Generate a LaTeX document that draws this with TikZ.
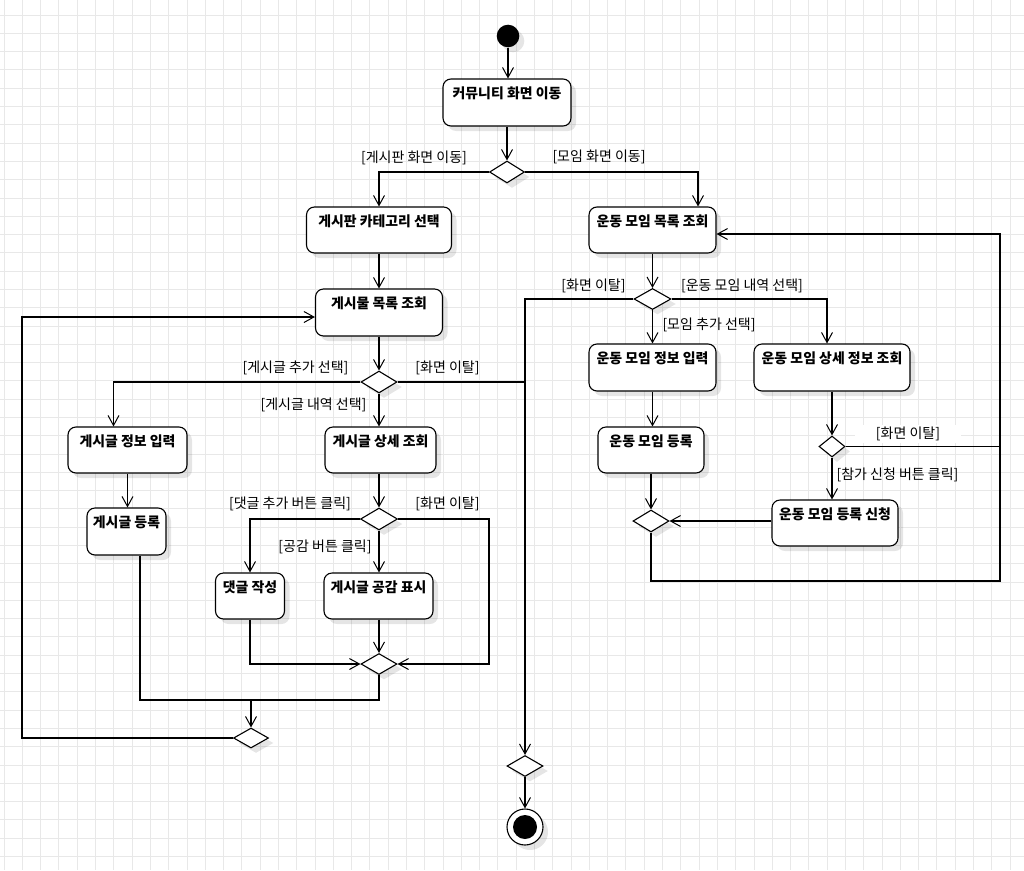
\documentclass[tikz,border=0pt]{standalone}
\usepackage{fontspec}
\setmainfont{Noto Sans CJK KR}
\usetikzlibrary{shapes.geometric,arrows.meta,shadows,calc}
\begin{document}
\begin{tikzpicture}[x=1pt,y=-1pt,
  shad/.style={drop shadow={fill=black,opacity=0.10,shadow xshift=5pt,shadow yshift=-5pt}},
  act/.style={draw, rounded corners=8pt, line width=1.1pt, fill=white, inner sep=0pt, shad},
  acttext/.style={anchor=center, yshift=-15pt, inner sep=0pt, font=\fontsize{13.9}{16}\selectfont\bfseries},
  dec/.style={diamond, draw, fill=white, line width=1.1pt, inner sep=0pt, shad},
  guard/.style={font=\fontsize{14}{16}\selectfont, inner sep=1pt},
  flow/.style={line width=1.1pt, -{Straight Barb[length=10pt,width=11pt,line width=1pt]}},
  plain/.style={line width=1.1pt},
  gridline/.style={black!9, line width=0.8pt}
]
% background and grid
\fill[white] (0,0) rectangle (1024,870);
\useasboundingbox (0,0) rectangle (1024,870);
\foreach \i in {0,...,55} \draw[gridline] ({4+\i*18.29},0) -- ({4+\i*18.29},870);
\foreach \i in {0,...,47} \draw[gridline] (0,{15+\i*18.29}) -- (1024,{15+\i*18.29});

% start / end
\node[circle, fill=black, minimum size=22.6pt, inner sep=0pt, shad] (start) at (508,36) {};
\node[circle, draw, fill=white, line width=1.1pt, minimum size=36pt, inner sep=0pt, shad,
  path picture={\fill[black] (path picture bounding box.center) circle[radius=12pt];}] (end) at (525,827) {};

% activities
\node[act, minimum width=128pt, minimum height=47pt, label={[acttext]north:커뮤니티 화면 이동}] (n1) at (507,102.5) {};
\node[act, minimum width=145pt, minimum height=46pt, label={[acttext]north:게시판 카테고리 선택}] (n2) at (379,230) {};
\node[act, minimum width=127pt, minimum height=46pt, label={[acttext]north:운동 모임 목록 조회}] (n3) at (652.5,230) {};
\node[act, minimum width=127pt, minimum height=47pt, label={[acttext]north:게시물 목록 조회}] (n4) at (379,312.5) {};
\node[act, minimum width=119pt, minimum height=46pt, label={[acttext]north:게시글 정보 입력}] (n5) at (127.5,450) {};
\node[act, minimum width=111pt, minimum height=46pt, label={[acttext]north:게시글 상세 조회}] (n6) at (380.5,450) {};
\node[act, minimum width=127pt, minimum height=47pt, label={[acttext]north:운동 모임 정보 입력}] (n7) at (652.5,367.5) {};
\node[act, minimum width=156pt, minimum height=47pt, label={[acttext]north:운동 모임 상세 정보 조회}] (n8) at (832,367.5) {};
\node[act, minimum width=106pt, minimum height=46pt, label={[acttext]north:운동 모임 등록}] (n9) at (651,450) {};
\node[act, minimum width=126pt, minimum height=46pt, label={[acttext]north:운동 모임 등록 신청}] (n10) at (835,523) {};
\node[act, minimum width=79pt, minimum height=47pt, label={[acttext]north:게시글 등록}] (n11) at (126.5,531.5) {};
\node[act, minimum width=69pt, minimum height=46pt, label={[acttext]north:댓글 작성}] (n12) at (250,596) {};
\node[act, minimum width=109pt, minimum height=46pt, label={[acttext]north:게시글 공감 표시}] (n13) at (378.5,596) {};

% decisions / merges
\node[dec, minimum width=35pt, minimum height=22pt] (d1) at (507,172) {};
\node[dec, minimum width=36pt, minimum height=22pt] (d2) at (379,382) {};
\node[dec, minimum width=37pt, minimum height=21pt] (d3) at (652.5,299) {};
\node[dec, minimum width=26pt, minimum height=21pt] (d4) at (832,446.5) {};
\node[dec, minimum width=36pt, minimum height=22pt] (d5) at (651,521) {};
\node[dec, minimum width=37pt, minimum height=22pt] (d6) at (379,519) {};
\node[dec, minimum width=36pt, minimum height=21pt] (d7) at (379,664) {};
\node[dec, minimum width=35pt, minimum height=20pt] (d8) at (251,738) {};
\node[dec, minimum width=36pt, minimum height=21pt] (d9) at (525,766) {};

% helper coordinates
\coordinate (rtop) at (1000,234);
\coordinate (rbot) at (1000,581);
\coordinate (rr) at (489,0);
\coordinate (j) at (251,700);
\coordinate (lx) at (22,0);
\coordinate (n4in) at ([yshift=-4.5pt]n4.west);
\coordinate (n3in) at ([yshift=-4pt]n3.east);
\coordinate (n3top) at ([xshift=45.5pt]n3.north);
\coordinate (n5top) at ([xshift=-14pt]n5.north);
\coordinate (n8top) at ([xshift=-5pt]n8.north);
\coordinate (n11bot) at ([xshift=13.5pt]n11.south);

% connectors
\draw[flow] (start.south) -- (start.south |- n1.north);
\draw[flow] (n1.south) -- (d1.north);
\draw[flow] (d1.west) -| (n2.north);
\draw[flow] (d1.east) -| (n3top);
\draw[flow] (n2.south) -- (n4.north);
\draw[flow] (n4.south) -- (d2.north);
\draw[flow] (d2.west) -| (n5top);
\draw[plain] (d2.east) -- (d2.east -| d9.north);
\draw[flow] (d2.south) -- (d2.south |- n6.north);
\draw[flow] (n3.south) -- (d3.north);
\draw[flow] (d3.west) -| (d9.north);
\draw[flow] (d3.east) -| (n8top);
\draw[flow] (d3.south) -- (d3.south |- n7.north);
\draw[flow] (n7.south) -- (n7.south |- n9.north);
\draw[flow] (n9.south) -- (d5.north);
\draw[flow] (n8.south) -- (d4.north);
\draw[plain] (d4.east) -- (d4.east -| rtop);
\draw[flow] (d4.south) -- (d4.south |- n10.north);
\draw[flow] (n10.west |- d5.east) -- (d5.east);
\draw[flow] (d5.south) |- (rbot) -- (rtop) -- (n3in);
\draw[flow] (n5.south) -- (n5.south |- n11.north);
\draw[flow] (d6.north |- n6.south) -- (d6.north);
\draw[flow] (d6.west) -| (n12.north);
\draw[flow] (d6.south) -- (d6.south |- n13.north);
\draw[flow] (d6.east) -| (rr |- d7.east) -- (d7.east);
\draw[flow] (n12.south) |- (d7.west);
\draw[flow] (d7.north |- n13.south) -- (d7.north);
\draw[plain] (d7.south) |- (j);
\draw[plain] (n11bot) |- (j);
\draw[flow] (j) -- (d8.north);
\draw[flow] (d8.west) -| (lx |- n4in) -- (n4in);
\draw[flow] (d9.south) -- (end.north);

% guards
\node[guard] (g1) at (414,158) {[게시판 화면 이동]};
\node[guard] (g2) at (599,157) {[모임 화면 이동]};
\node[guard] (g3) at (295.5,368) {[게시글 추가 선택]};
\node[guard] (g4) at (447.5,368) {[화면 이탈]};
\node[guard] (g5) at (313.5,405) {[게시글 내역 선택]};
\node[guard] (g6) at (593.5,286) {[화면 이탈]};
\node[guard] (g7) at (742,286) {[운동 모임 내역 선택]};
\node[guard] (g8) at (709,325) {[모임 추가 선택]};
\node[guard, fill=white, inner xsep=21pt, inner ysep=2pt] (g9) at (908,434) {[화면 이탈]};
\node[guard] (g10) at (897.5,475) {[참가 신청 버튼 클릭]};
\node[guard] (g11) at (290,504) {[댓글 추가 버튼 클릭]};
\node[guard] (g12) at (447.5,504) {[화면 이탈]};
\node[guard] (g13) at (325,547) {[공감 버튼 클릭]};
\end{tikzpicture}
\end{document}
